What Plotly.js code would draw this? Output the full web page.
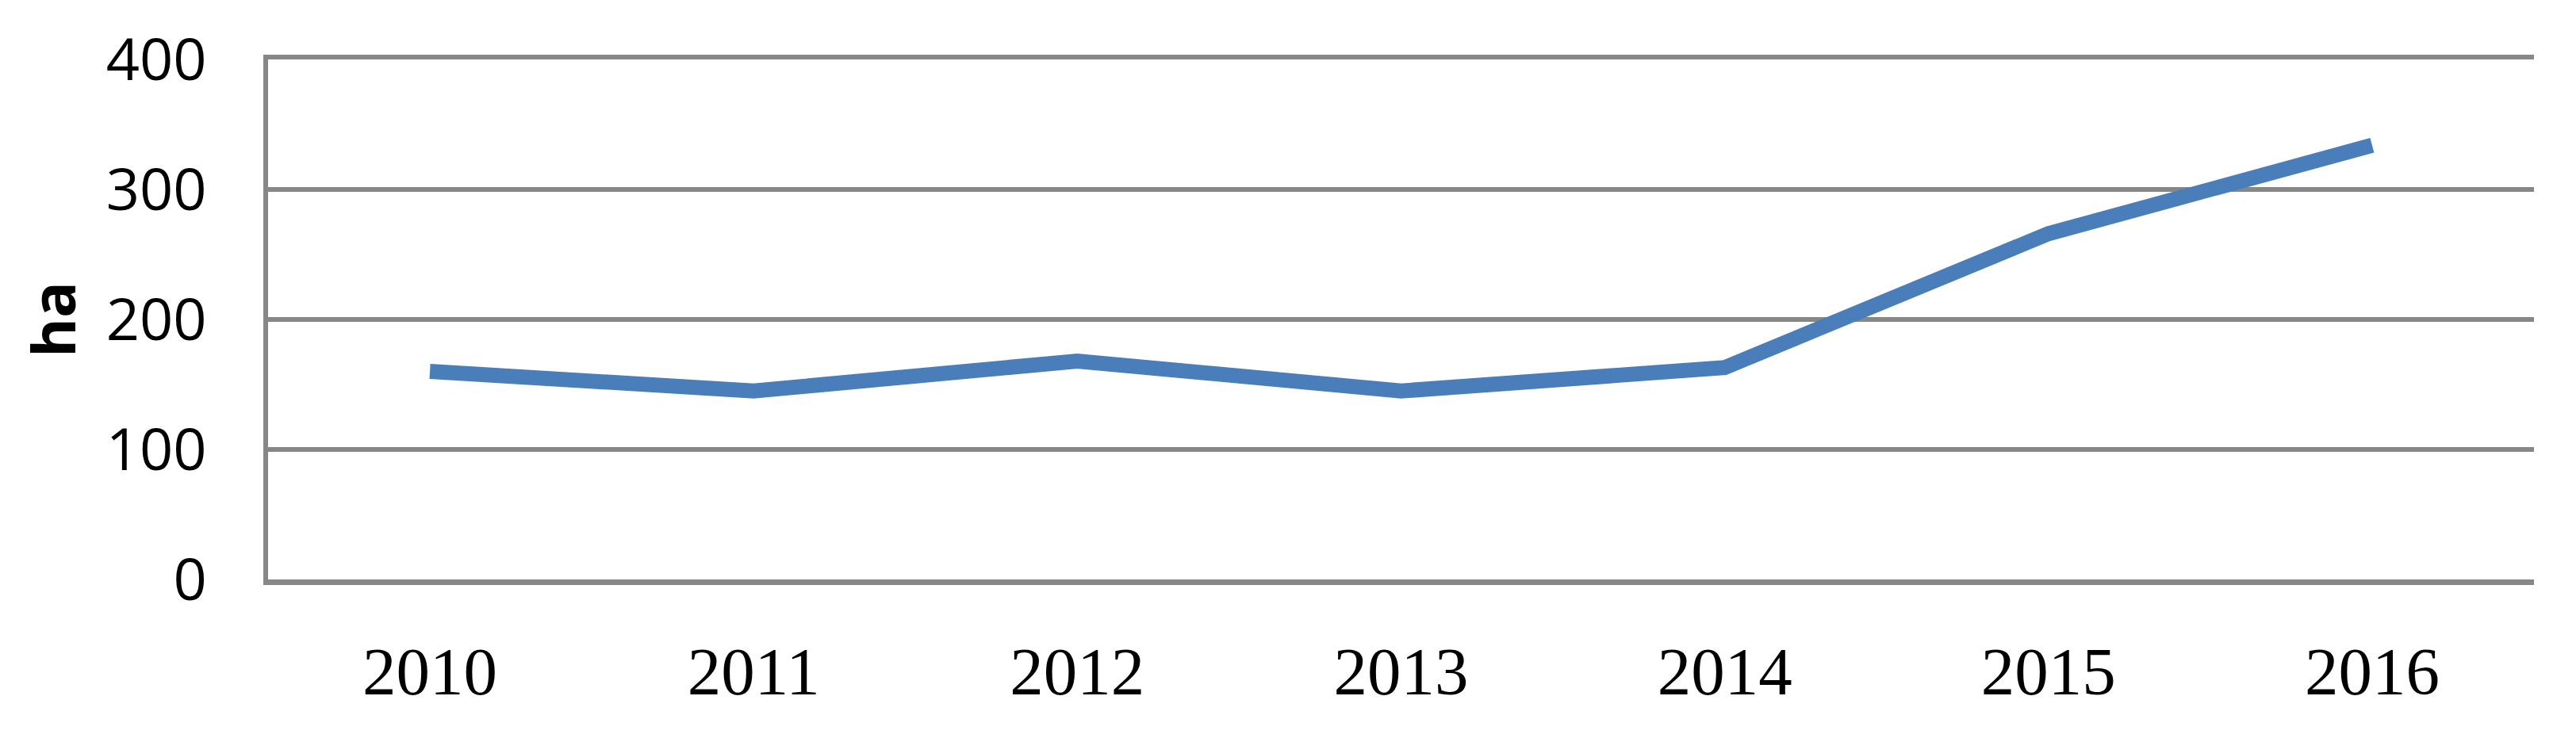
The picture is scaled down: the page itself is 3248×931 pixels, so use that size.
<!DOCTYPE html>
<html>
<head>
<meta charset="utf-8">
<script src="https://cdn.plot.ly/plotly-3.0.1.min.js"></script>
<style>html,body{margin:0;padding:0;background:#fff;}#chart{width:3248px;height:931px;}</style>
</head>
<body>
<div id="chart"></div>
<script>
const years = ["2010", "2011", "2012", "2013", "2014", "2015", "2016"];
const hectares = [160, 145, 168, 145, 163, 266, 334];
const yTicks = [0, 100, 200, 300, 400];
const yTitle = "ha";

const trace = {
  type: "scatter",
  mode: "lines",
  x: years,
  y: hectares,
  line: {color: "#4A7EBB", width: 19, shape: "linear"},
  hoverinfo: "skip"
};

const layout = {
  width: 3248,
  height: 931,
  paper_bgcolor: "#ffffff",
  plot_bgcolor: "#ffffff",
  showlegend: false,
  margin: {l: 338, r: 53, t: 75, b: 200, pad: 0},
  xaxis: {
    type: "category",
    range: [-0.5, 6.5],
    showgrid: false,
    zeroline: false,
    showline: true,
    mirror: true,
    linecolor: "#878787",
    linewidth: 6.5,
    ticks: "",
    ticklabelstandoff: 36,
    tickfont: {family: "Liberation Serif, Times New Roman, serif", size: 85, color: "#000000"}
  },
  yaxis: {
    range: [0, 400],
    tickvals: yTicks,
    ticktext: yTicks.map(String),
    showgrid: true,
    gridcolor: "#878787",
    gridwidth: 6.5,
    zeroline: false,
    showline: true,
    linecolor: "#878787",
    linewidth: 6.5,
    ticks: "",
    ticklabelstandoff: 56,
    tickfont: {family: "Open Sans, sans-serif", size: 74, color: "#000000"}
  },
  annotations: [{
    text: "<b>" + yTitle + "</b>",
    xref: "paper", yref: "paper",
    x: 0, y: 0.5,
    xanchor: "center", yanchor: "middle",
    xshift: -273,
    textangle: -90,
    showarrow: false,
    font: {family: "Open Sans, sans-serif", size: 76, color: "#000000"}
  }]
};

Plotly.newPlot("chart", [trace], layout, {staticPlot: true, displayModeBar: false});
</script>
</body>
</html>
